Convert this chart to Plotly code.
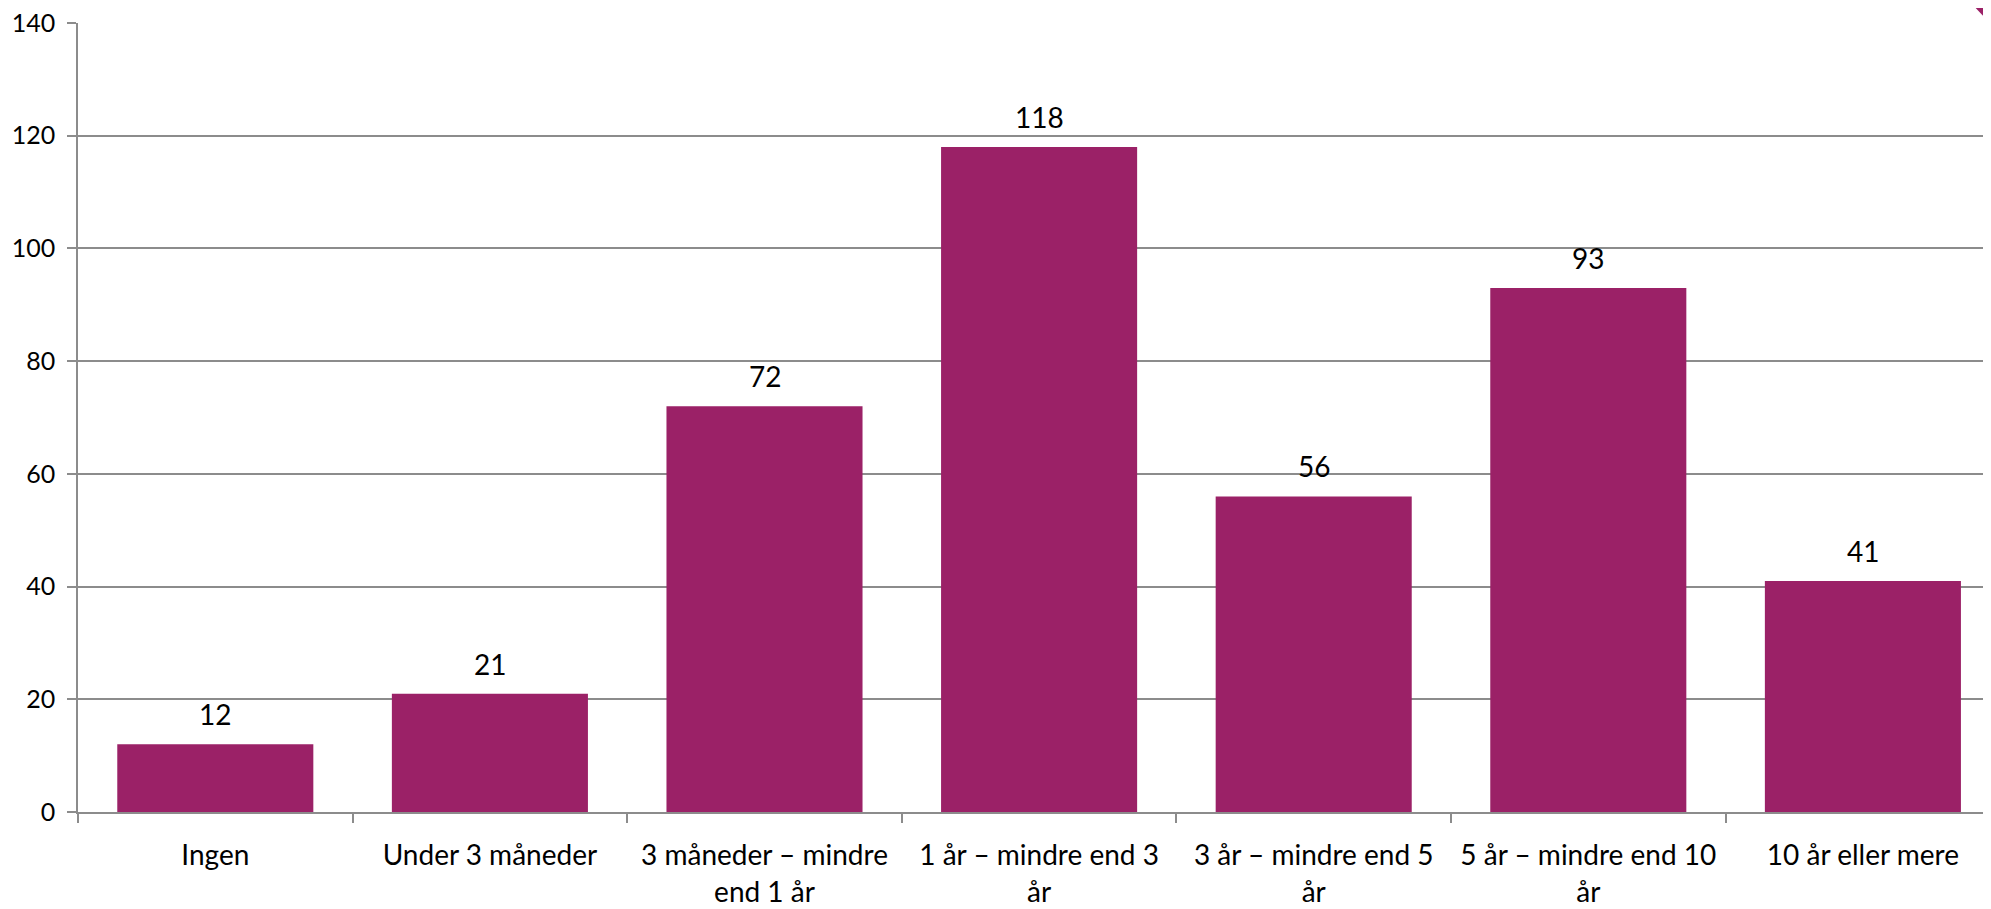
import plotly.graph_objects as go

categories = [
    "Ingen",
    "Under 3 måneder",
    "3 måneder – mindre<br>end 1 år",
    "1 år – mindre end 3<br>år",
    "3 år – mindre end 5<br>år",
    "5 år – mindre end 10<br>år",
    "10 år eller mere",
]
values = [12, 21, 72, 118, 56, 93, 41]
y_ticks = [0, 20, 40, 60, 80, 100, 120, 140]

BAR = "rgb(155,33,103)"
GRID = "#8c8c8c"
FONT = "Lato, sans-serif"

# page body has an 8px default margin, so the figure is sized to fit the window
OFF = 8
W, H = 1991 - OFF, 909 - OFF
L, T, B = 78 - OFF, 23 - OFF, 97
plot_w = W - L
cat_px = 274.6

fig = go.Figure(
    go.Bar(
        x=categories,
        y=values,
        marker=dict(color=BAR, line=dict(width=0)),
        width=0.714,
        hoverinfo="skip",
    )
)

for c, v in zip(categories, values):
    fig.add_annotation(
        x=c,
        y=v,
        text=str(v),
        showarrow=False,
        yanchor="bottom",
        yshift=11,
        font=dict(family=FONT, size=28, color="black"),
    )

fig.update_layout(
    width=W,
    height=H,
    margin=dict(l=L, r=0, t=T, b=B, pad=0),
    paper_bgcolor="white",
    plot_bgcolor="white",
    showlegend=False,
    font=dict(family=FONT, size=27, color="black"),
    xaxis=dict(
        type="category",
        range=[-0.5, -0.5 + plot_w / cat_px],
        tickson="boundaries",
        ticks="outside",
        ticklen=9,
        tickwidth=1.5,
        tickcolor=GRID,
        showline=True,
        linecolor=GRID,
        linewidth=1.5,
        showgrid=False,
        tickfont=dict(family=FONT, size=28, color="black"),
        tickangle=0,
        ticklabelstandoff=18,
        automargin=False,
    ),
    yaxis=dict(
        range=[0, 140],
        tickvals=y_ticks,
        ticks="outside",
        ticklen=9,
        tickwidth=1.5,
        tickcolor=GRID,
        showline=True,
        linecolor=GRID,
        linewidth=1.5,
        showgrid=True,
        gridcolor=GRID,
        gridwidth=1.5,
        zeroline=False,
        tickfont=dict(family=FONT, size=25, color="black"),
        ticklabelstandoff=7,
        ticklabeloverflow="allow",
        automargin=False,
    ),
    bargap=0.286,
)

# small decorative corner ribbon (top right)
def px_to_paper(px, py):
    return (px - L) / plot_w, (H - B - py) / (H - B - T)

x0, y0 = px_to_paper(1968 - OFF, -OFF)
x1, y1 = px_to_paper(1991 - OFF, -OFF)
x2, y2 = px_to_paper(1991 - OFF, 24 - OFF)
fig.add_shape(
    type="path",
    xref="paper",
    yref="paper",
    path=f"M {x0} {y0} L {x1} {y1} L {x2} {y2} Z",
    fillcolor=BAR,
    line=dict(width=0),
    layer="above",
)

fig.write_html("out.html")
